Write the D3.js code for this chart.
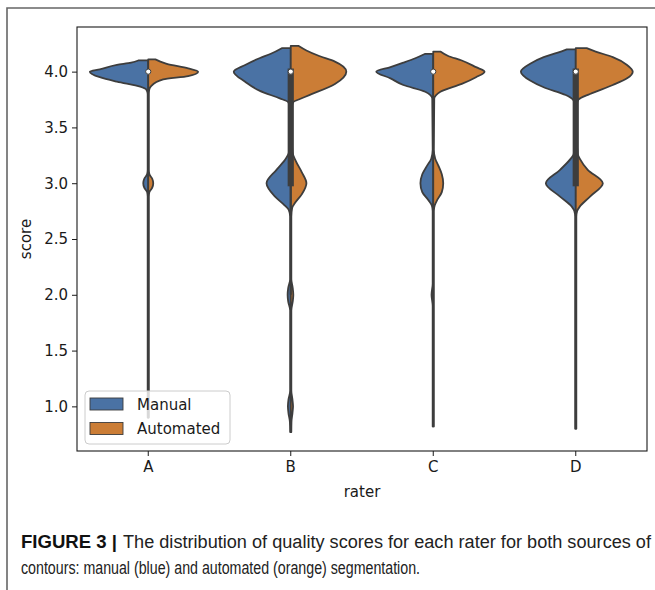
<!DOCTYPE html>
<html><head><meta charset="utf-8">
<script src="https://cdn.jsdelivr.net/npm/d3@7"></script>
<style>
html,body{margin:0;padding:0;background:#fff;}
svg{display:block;}
</style></head>
<body>
<svg id="chart" width="655" height="590"></svg>
<script>
// ---------- data ----------
const raters = ["A", "B", "C", "D"];
const sources = ["Manual", "Automated"];
const yTicks = [1.0, 1.5, 2.0, 2.5, 3.0, 3.5, 4.0];
const colors = ["#4a72a4", "#cb7d36"];

// violin half profiles: [score, half-width as fraction of category step]
const manualA = [[4.10,0.070],[4.08,0.12],[4.06,0.22],[4.02,0.34],[4.00,0.41],[3.95,0.34],[3.91,0.22],[3.865,0.056],[3.84,0.014],[3.80,0.004],[3.12,0.004],[3.08,0.008],[3.04,0.028],[3.00,0.035],[2.96,0.028],[2.92,0.008],[2.88,0.004],[0.90,0.004]];
const automatedA = [[4.11,0.05],[4.09,0.085],[4.07,0.13],[4.03,0.28],[4.00,0.35],[3.96,0.28],[3.93,0.105],[3.87,0.02],[3.84,0.007],[3.80,0.004],[3.12,0.004],[3.08,0.008],[3.04,0.028],[3.00,0.035],[2.96,0.028],[2.92,0.008],[2.88,0.004],[0.90,0.004]];
const manualB = [[4.21,0.063],[4.16,0.14],[4.12,0.22],[4.06,0.32],[4.00,0.40],[3.91,0.32],[3.83,0.22],[3.76,0.077],[3.73,0.02],[3.70,0.01],[3.45,0.006],[3.28,0.012],[3.22,0.035],[3.12,0.10],[3.00,0.17],[2.88,0.11],[2.81,0.05],[2.76,0.014],[2.70,0.004],[2.14,0.004],[2.06,0.018],[2.00,0.022],[1.94,0.018],[1.86,0.004],[1.14,0.004],[1.06,0.016],[1.00,0.02],[0.94,0.016],[0.86,0.006],[0.77,0.004]];
const automatedB = [[4.23,0.056],[4.19,0.11],[4.14,0.20],[4.09,0.31],[4.00,0.39],[3.89,0.31],[3.79,0.13],[3.75,0.056],[3.73,0.02],[3.70,0.01],[3.45,0.006],[3.28,0.012],[3.20,0.035],[3.10,0.077],[3.00,0.11],[2.90,0.077],[2.82,0.028],[2.78,0.01],[2.70,0.004],[2.14,0.004],[2.06,0.014],[2.00,0.018],[1.94,0.014],[1.86,0.004],[1.14,0.004],[1.06,0.012],[1.00,0.016],[0.94,0.012],[0.86,0.005],[0.77,0.004]];
const manualC = [[4.16,0.056],[4.12,0.126],[4.08,0.21],[4.04,0.30],[4.00,0.40],[3.94,0.30],[3.88,0.21],[3.82,0.056],[3.79,0.02],[3.76,0.007],[3.30,0.004],[3.22,0.014],[3.16,0.042],[3.08,0.077],[3.00,0.09],[2.92,0.077],[2.85,0.035],[2.80,0.01],[2.75,0.004],[2.10,0.004],[2.00,0.012],[1.90,0.004],[0.82,0.004]];
const automatedC = [[4.18,0.05],[4.14,0.105],[4.10,0.20],[4.04,0.30],[4.00,0.36],[3.95,0.30],[3.89,0.20],[3.82,0.05],[3.79,0.02],[3.76,0.007],[3.30,0.004],[3.22,0.014],[3.16,0.035],[3.08,0.06],[3.00,0.07],[2.92,0.06],[2.85,0.028],[2.80,0.01],[2.75,0.004],[0.82,0.004]];
const manualD = [[4.20,0.063],[4.17,0.126],[4.13,0.225],[4.07,0.32],[4.00,0.385],[3.92,0.32],[3.86,0.225],[3.79,0.07],[3.75,0.02],[3.72,0.01],[3.40,0.007],[3.26,0.014],[3.22,0.035],[3.12,0.11],[3.00,0.21],[2.88,0.11],[2.79,0.028],[2.75,0.01],[2.70,0.004],[0.80,0.004]];
const automatedD = [[4.21,0.077],[4.18,0.14],[4.13,0.26],[4.06,0.36],[4.00,0.40],[3.94,0.36],[3.88,0.26],[3.80,0.10],[3.75,0.02],[3.72,0.01],[3.40,0.007],[3.26,0.014],[3.22,0.028],[3.12,0.084],[3.00,0.19],[2.88,0.10],[2.79,0.028],[2.75,0.01],[2.70,0.004],[0.80,0.004]];

// inner box statistics per rater: [q25, median, q75]
const quartiles = [[4,4,4],[3,4,4],[4,4,4],[3,4,4]];
const whiskers = [[4,4],[2,4],[4,4],[3,4]];

const captionBold = "FIGURE 3 |";
const captionLine1 = "The distribution of quality scores for each rater for both sources of";
const captionLine2 = "contours: manual (blue) and automated (orange) segmentation.";

// ---------- drawing ----------
const profiles = {
  A: [manualA, automatedA], B: [manualB, automatedB],
  C: [manualC, automatedC], D: [manualD, automatedD]
};
const svg = d3.select("#chart");
const L = 77, R = 647, T = 27, B = 451;
const gray = "#3d3d3d";
const font = "'DejaVu Sans', sans-serif";

// outer frame
svg.append("path").attr("d", `M7,590 V8 H655`).attr("fill", "none")
  .attr("stroke", "#666").attr("stroke-width", 1.6);

const x = d3.scaleBand().domain(raters).range([L, R]).padding(0);
const y = d3.scaleLinear().domain([0.6, 4.4]).range([B, T]);
const w = d3.scaleLinear().domain([0, 1]).range([0, x.step()]);

const plot = svg.append("g");
raters.forEach((r, i) => {
  const cx = x(r) + x.bandwidth() / 2;
  profiles[r].forEach((prof, s) => {
    const sign = s === 0 ? -1 : 1;
    const pts = prof.slice().sort((a, b) => b[0] - a[0]);
    const area = d3.area().curve(d3.curveMonotoneY)
      .y(d => y(d[0])).x0(cx).x1(d => cx + sign * w(d[1]));
    plot.append("path").attr("d", area(pts))
      .attr("fill", colors[s]).attr("stroke", gray)
      .attr("stroke-width", 1.8).attr("stroke-linejoin", "round");
  });
  const [q1, med, q3] = quartiles[i];
  const [wl, wh] = whiskers[i];
  if (wh > wl) {
    plot.append("line").attr("x1", cx).attr("x2", cx)
      .attr("y1", y(wl)).attr("y2", y(wh))
      .attr("stroke", gray).attr("stroke-width", 2);
  }
  if (q3 > q1) {
    plot.append("line").attr("x1", cx).attr("x2", cx)
      .attr("y1", y(q1)).attr("y2", y(q3))
      .attr("stroke", gray).attr("stroke-width", 6.2)
      .attr("stroke-linecap", "square");
  }
  plot.append("circle").attr("cx", cx).attr("cy", y(med)).attr("r", 2.6)
    .attr("fill", "#fff").attr("stroke", gray).attr("stroke-width", 1);
});

// axes spines
svg.append("rect").attr("x", L).attr("y", T).attr("width", R - L).attr("height", B - T)
  .attr("fill", "none").attr("stroke", "#1a1a1a").attr("stroke-width", 1.1);

// y axis
const yAxis = d3.axisLeft(y).tickValues(yTicks).tickFormat(d3.format(".1f"))
  .tickSize(5).tickPadding(4);
const gy = svg.append("g").attr("transform", `translate(${L},0)`).call(yAxis);
gy.select(".domain").remove();
gy.selectAll("line").attr("stroke", "#1a1a1a");
gy.selectAll("text").attr("font-family", font).attr("font-size", 15).attr("fill", "#1a1a1a");

// x axis
const xAxis = d3.axisBottom(x).tickSize(5).tickPadding(5);
const gx = svg.append("g").attr("transform", `translate(0,${B})`).call(xAxis);
gx.select(".domain").remove();
gx.selectAll("line").attr("stroke", "#1a1a1a");
gx.selectAll("text").attr("font-family", font).attr("font-size", 15).attr("fill", "#1a1a1a");

// axis titles
svg.append("text").attr("x", (L + R) / 2).attr("y", 497).attr("text-anchor", "middle")
  .attr("font-family", font).attr("font-size", 15).attr("fill", "#1a1a1a").text("rater");
svg.append("text").attr("transform", `translate(31,${(T + B) / 2}) rotate(-90)`)
  .attr("text-anchor", "middle").attr("font-family", font).attr("font-size", 15)
  .attr("fill", "#1a1a1a").text("score");

// legend
const lg = svg.append("g");
lg.append("rect").attr("x", 85).attr("y", 391).attr("width", 145).attr("height", 53)
  .attr("rx", 4).attr("fill", "#fff").attr("fill-opacity", 0.8)
  .attr("stroke", "#cccccc").attr("stroke-width", 1);
sources.forEach((s, i) => {
  const yy = 398 + i * 24.5;
  lg.append("rect").attr("x", 90).attr("y", yy).attr("width", 33).attr("height", 12)
    .attr("fill", colors[i]).attr("stroke", gray).attr("stroke-width", 0.9);
  lg.append("text").attr("x", 137).attr("y", yy + 11.5).attr("font-family", font)
    .attr("font-size", 15).attr("fill", "#1a1a1a").text(s);
});

// caption
const cfont = "'Liberation Sans', Arial, sans-serif";
svg.append("text").attr("x", 21).attr("y", 548).attr("font-family", cfont)
  .attr("font-size", 18).attr("font-weight", "bold").attr("fill", "#111")
  .attr("textLength", 96).attr("lengthAdjust", "spacingAndGlyphs").text(captionBold);
svg.append("text").attr("x", 123).attr("y", 548).attr("font-family", cfont)
  .attr("font-size", 18).attr("fill", "#222")
  .attr("textLength", 528).attr("lengthAdjust", "spacingAndGlyphs").text(captionLine1);
svg.append("text").attr("x", 21).attr("y", 574).attr("font-family", cfont)
  .attr("font-size", 17.5).attr("fill", "#222")
  .attr("textLength", 399).attr("lengthAdjust", "spacingAndGlyphs").text(captionLine2);
</script>
</body></html>
